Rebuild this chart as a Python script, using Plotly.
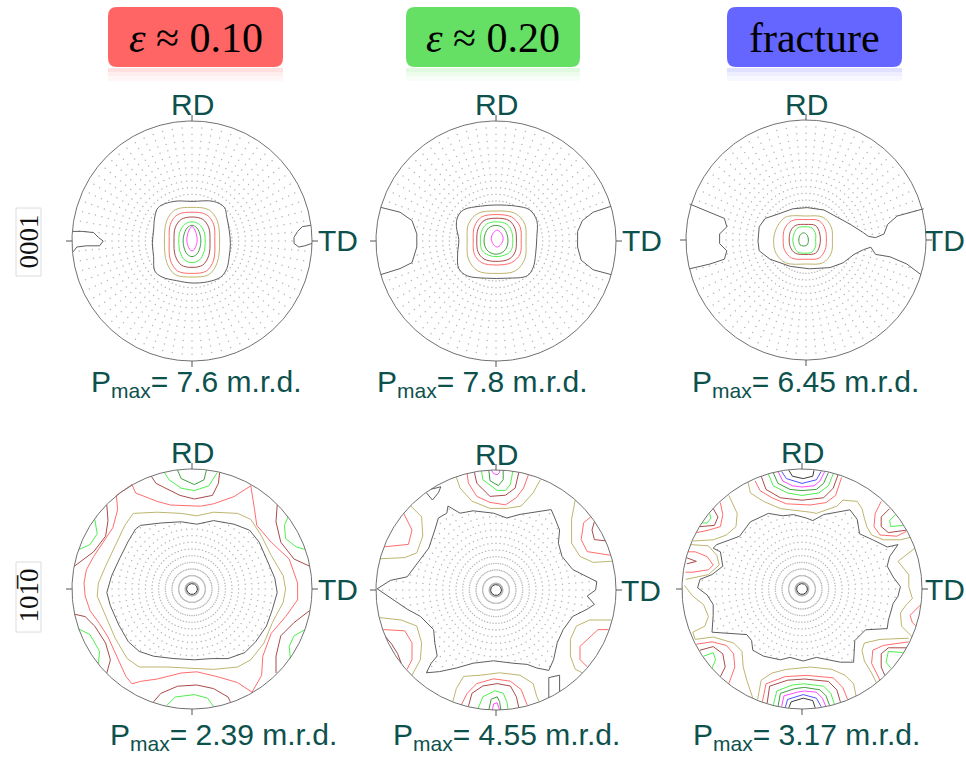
import numpy as np
import plotly.graph_objects as go

W, H = 966, 757
R_PX = 120.0      # pole-figure radius in pixels
HALF = 1.12       # axis half-range, in units of the radius

# ---------------- labels ----------------
STAGES = ["<i>ε</i> ≈ 0.10", "<i>ε</i> ≈ 0.20", "fracture"]
STAGE_COLORS = ["#ff6565", "#65e065", "#6565ff"]
PLANES = ["0001", "101\u03050"]
PMAX = [["7.6", "7.8", "6.45"], ["2.39", "4.55", "3.17"]]

# contour level colours, lowest level first
LEVEL_COLORS = ["#5e5e5e", "#bdb56e", "#ff6d6d", "#aa4b4b", "#4ef04e",
                "#3f9f3f", "#ff4dff", "#5252ff", "#3c3c3c"]

# ---------------- contour lines (percent of radius; x = TD, y = RD) ----------------
# (0001), eps ~ 0.10
P1_L1 = [(0, 33), (18, 33), (27, 28), (29, 20), (31, 9), (32, -2), (31, -13), (29, -23), (24, -30),
         (13, -34), (0, -35), (-13, -33), (-25, -30), (-31, -25), (-32, -13), (-33, -2), (-32, 9),
         (-31, 20), (-28, 28), (-15, 33)]
P1_L1_W = [(-100, 8), (-91, 8), (-82, 7), (-78, 3), (-74, 0), (-77, -4), (-88, -4), (-96, -5), (-99, -9)]
P1_L1_E = [(99, 13), (92, 12), (88, 8), (85, 3), (85, -2), (89, -5), (94, -4), (100, -2)]
P1_L2 = [(0, 28), (14, 26), (21, 17), (23, 0), (21, -18), (14, -28), (0, -30), (-14, -28), (-21, -18),
         (-23, 0), (-21, 17), (-14, 26)]
P1_L3 = [(0, 24), (12, 22), (18, 14), (19, 0), (18, -16), (12, -25), (0, -27), (-12, -25), (-18, -16),
         (-19, 0), (-18, 14), (-12, 22)]
P1_L4 = [(0, 20), (9, 18), (14, 11), (15, 0), (14, -12), (9, -20), (0, -22), (-9, -20), (-14, -12),
         (-15, 0), (-14, 11), (-9, 18)]
P1_L5 = [(0, 16), (6, 14), (10, 8), (11, 0), (10, -9), (6, -16), (0, -18), (-6, -16), (-10, -9),
         (-11, 0), (-10, 8), (-6, 14)]
P1_L6 = [(0, 13), (4, 11), (7, 4), (7, -4), (4, -11), (0, -13), (-4, -11), (-7, -4), (-7, 4), (-4, 11)]
P1_L7 = [(0, 12), (2, 10), (4, 4), (4, -2), (1, -8), (-1, -8), (-4, -2), (-4, 4), (-2, 10)]

# (0001), eps ~ 0.20
P2_L1 = [(0, 30), (17, 29), (28, 26), (34, 17), (34, 3), (33, -11), (31, -22), (26, -29), (9, -31),
         (-8, -31), (-24, -29), (-31, -23), (-32, -11), (-31, 1), (-33, 12), (-32, 20), (-27, 26), (-13, 29)]
P2_L1_W = [(-96, 28), (-80, 24), (-70, 17), (-66, 6), (-66, -5), (-70, -18), (-80, -23), (-96, -28)]
P2_L1_E = [(96, 29), (81, 24), (72, 17), (68, 8), (68, -5), (71, -16), (81, -24), (96, -28)]
P2_L2 = [(0, 25), (16, 23), (24, 14), (25, 0), (24, -15), (16, -25), (0, -27), (-15, -25), (-23, -15),
         (-24, 0), (-23, 14), (-15, 23)]
P2_L3 = [(0, 22), (13, 20), (20, 12), (21, 0), (20, -11), (13, -18), (0, -20), (-12, -18), (-18, -11),
         (-19, 0), (-18, 12), (-12, 20)]
P2_L4 = [(0, 19), (11, 17), (16, 10), (17, 0), (16, -9), (11, -15), (0, -17), (-10, -15), (-15, -9),
         (-16, 0), (-15, 10), (-10, 17)]
P2_L5 = [(0, 16), (9, 14), (13, 8), (14, 0), (13, -7), (9, -11), (0, -13), (-8, -11), (-12, -7),
         (-13, 0), (-12, 8), (-8, 14)]
P2_L6 = [(0, 13), (6, 11), (9, 6), (10, 0), (9, -5), (6, -9), (0, -11), (-6, -9), (-9, -5),
         (-10, 0), (-9, 6), (-6, 11)]
P2_L7 = [(1, 9), (4, 7), (6, 2), (4, -3), (1, -5), (-2, -3), (-4, 2), (-2, 7)]

# (0001), fracture
P3_L1 = [(98, 26), (76, 20), (68, 13), (65, 5), (58, 2), (52, 3), (48, 6), (37, 13), (26, 19), (15, 25),
         (1, 27), (-11, 26), (-25, 21), (-34, 18), (-39, 11), (-40, -1), (-39, -9), (-30, -16), (-13, -22),
         (3, -24), (20, -23), (31, -19), (40, -12), (48, -8), (54, -6), (58, -12), (70, -14), (84, -20),
         (96, -29)]
P3_L1_W = [(-97, 30), (-80, 23), (-68, 18), (-66, 11), (-72, 5), (-72, -3), (-66, -9), (-68, -16),
           (-80, -20), (-97, -24)]
P3_L2 = [(0, 20), (14, 19), (21, 11), (22, 0), (21, -11), (14, -19), (0, -20), (-17, -19), (-25, -11),
         (-27, 0), (-24, 11), (-17, 19)]
P3_L3 = [(0, 17), (11, 16), (16, 9), (17, 0), (16, -8), (11, -15), (0, -16), (-12, -15), (-18, -8),
         (-19, 0), (-18, 9), (-12, 16)]
P3_L4 = [(0, 13), (8, 12), (11, 7), (12, 0), (11, -6), (8, -11), (0, -12), (-9, -11), (-13, -6),
         (-14, 0), (-13, 7), (-9, 12)]
P3_L5 = [(0, 11), (5, 10), (8, 5), (8, 0), (8, -5), (5, -10), (0, -11), (-7, -10), (-10, -5),
         (-11, 0), (-10, 5), (-7, 10)]
P3_L6 = [(-2, 6), (1, 4), (2, 0), (1, -4), (-2, -5), (-5, -4), (-6, 0), (-5, 4)]

# (10-10), eps ~ 0.10
P4_L1 = [(-43, 53), (-26, 55), (-9, 56), (4, 54), (18, 57), (35, 54), (48, 49), (56, 39), (63, 23),
         (69, 9), (71, -3), (67, -17), (62, -31), (53, -44), (44, -53), (30, -58), (16, -58), (2, -59),
         (-15, -58), (-32, -56), (-44, -52), (-53, -44), (-61, -30), (-68, -14), (-71, -3), (-67, 11),
         (-60, 26), (-53, 40), (-47, 50)]
P4_L2 = [(-49, 63), (-29, 64), (-9, 63), (4, 61), (18, 64), (38, 63), (49, 58), (58, 44), (66, 28),
         (76, 11), (78, 0), (76, -11), (67, -28), (60, -45), (49, -59), (38, -65), (18, -67), (2, -66),
         (-21, -65), (-44, -65), (-54, -58), (-64, -41), (-72, -23), (-79, -6), (-78, 5), (-72, 19),
         (-64, 36), (-56, 53)]
P4_L3 = [(7, 69), (18, 71), (35, 77), (49, 86), (52, 67), (54, 53), (66, 39), (81, 25), (88, 5),
         (88, -9), (78, -23), (66, -37), (59, -56), (58, -72), (50, -86), (38, -78), (21, -73), (4, -69),
         (-9, -70), (-29, -75), (-43, -77), (-50, -79), (-55, -73), (-63, -56), (-70, -40), (-77, -29),
         (-85, -18), (-89, -6), (-90, 5), (-88, 16), (-82, 27), (-74, 39), (-66, 51), (-62, 66),
         (-63, 78), (-50, 87), (-47, 80), (-29, 73), (-18, 70)]
P4_L4_N = [(-34, 94), (-30, 88), (-24, 85), (-10, 78), (2, 75), (17, 78), (22, 88), (23, 97)]
P4_L4_NE = [(71, 70), (70, 56), (74, 39), (85, 25), (98, 19)]
P4_L4_NW = [(-71, 70), (-70, 57), (-72, 44), (-82, 31), (-98, 19)]
P4_L4_SW = [(-98, -21), (-89, -23), (-81, -31), (-72, -45), (-68, -59), (-71, -70)]
P4_L4_SE = [(98, -18), (85, -28), (74, -39), (70, -56), (70, -70)]
P4_L4_S = [(-32, -94), (-26, -87), (-12, -81), (4, -80), (18, -83), (30, -90), (32, -94)]
P4_L5_N = [(-23, 97), (-19, 91), (-9, 84), (2, 82), (14, 86), (18, 92), (21, 97)]
P4_L5_NE = [(80, 60), (77, 53), (78, 42), (87, 35), (94, 33)]
P4_L5_NW = [(-81, 58), (-79, 46), (-85, 37), (-94, 33)]
P4_L5_SW = [(-95, -33), (-85, -38), (-77, -52), (-78, -62)]
P4_L5_SE = [(94, -34), (85, -39), (81, -48), (82, -58)]
P4_L5_S = [(-21, -97), (-14, -90), (2, -88), (13, -91), (18, -98)]
P4_L6_N = [(-12, 99), (-9, 92), (2, 87), (10, 91), (12, 99)]

# (10-10), eps ~ 0.20
P5_L1 = [(-99, 1), (-88, 8), (-74, 11), (-65, 23), (-56, 35), (-51, 50), (-48, 60), (-41, 64), (-40, 70),
         (-30, 64), (-19, 66), (-2, 64), (9, 60), (20, 63), (37, 66), (46, 67), (49, 60), (53, 50),
         (52, 39), (55, 28), (64, 17), (76, 11), (84, 7), (83, 0), (76, -5), (82, -12), (76, -16),
         (64, -22), (56, -33), (51, -44), (48, -58), (44, -67), (34, -65), (26, -62), (14, -61), (-2, -59),
         (-19, -61), (-33, -65), (-47, -68), (-58, -69), (-54, -61), (-49, -55), (-51, -44), (-52, -33),
         (-63, -22), (-74, -16), (-86, -8)]
P5_L1_NW = [(-54, 84), (-46, 86), (-48, 81), (-53, 75), (-58, 81)]
P5_L1_SE = [(44, -90), (44, -73), (53, -71), (53, -85)]
P5_L2_N = [(-33, 94), (-30, 85), (-20, 74), (-5, 68), (9, 68), (21, 70), (31, 81), (37, 92)]
P5_L2_NE = [(66, 75), (63, 59), (63, 39), (70, 28), (81, 23), (97, 24)]
P5_L2_NW = [(-71, 70), (-62, 61), (-61, 45), (-66, 31), (-76, 27), (-97, 26)]
P5_L2_SW = [(-97, -23), (-79, -25), (-66, -30), (-62, -44), (-63, -58), (-70, -71)]
P5_L2_SE = [(96, -25), (78, -25), (67, -30), (62, -41), (62, -55), (66, -66), (72, -69)]
P5_L2_S = [(-36, -93), (-33, -82), (-27, -72), (-13, -71), (3, -69), (20, -71), (31, -78), (34, -89),
           (36, -93)]
P5_L3_N = [(-24, 97), (-23, 89), (-16, 78), (-5, 73), (8, 71), (17, 77), (23, 85), (27, 96)]
P5_L3_NE = [(79, 61), (73, 56), (71, 42), (76, 32), (95, 29)]
P5_L3_NW = [(-77, 64), (-70, 50), (-73, 38), (-93, 36)]
P5_L3_SW = [(-94, -33), (-76, -34), (-70, -44), (-70, -58), (-74, -66)]
P5_L3_SE = [(94, -33), (85, -33), (70, -47), (70, -58), (76, -64)]
P5_L3_S = [(-29, -96), (-24, -86), (-16, -78), (-2, -74), (12, -76), (21, -83), (26, -96)]
P5_L4_N = [(-18, 98), (-16, 89), (-5, 78), (8, 79), (16, 85), (19, 98)]
P5_L4_NE = [(82, 57), (80, 50), (82, 42), (91, 41)]
P5_L4_SW = [(-92, -39), (-87, -45), (-82, -53), (-79, -61)]
P5_L4_S = [(-23, -97), (-20, -86), (-11, -80), (1, -78), (12, -80), (17, -89), (19, -98)]
P5_L5_N = [(-12, 99), (-11, 92), (1, 83), (8, 83), (12, 88), (14, 99)]
P5_L5_S = [(-15, -99), (-11, -89), (-1, -84), (6, -86), (9, -93), (10, -99)]
P5_L6_N = [(-6, 100), (-5, 91), (2, 87), (6, 92), (6, 100)]
P5_L6_S = [(-6, -100), (-4, -91), (1, -89), (3, -93), (4, -100)]
P5_L7_N = [(-4, 100), (-2, 97), (1, 96), (3, 98), (3, 100)]
P5_L7_S = [(-3, -100), (-2, -95), (1, -94), (3, -100)]

# (10-10), fracture
P6_L1 = [(4, 59), (9, 57), (18, 62), (23, 63), (32, 65), (40, 66), (46, 58), (48, 46), (59, 41), (71, 35),
         (80, 37), (73, 27), (71, 19), (76, 10), (82, 2), (80, -6), (76, -12), (72, -26), (71, -33),
         (53, -34), (44, -43), (43, -61), (32, -61), (12, -57), (1, -60), (-10, -57), (-18, -59),
         (-32, -56), (-41, -51), (-42, -43), (-46, -38), (-66, -37), (-75, -36), (-74, -22), (-74, -13),
         (-79, -5), (-87, 1), (-85, 8), (-75, 12), (-66, 19), (-68, 31), (-74, 34), (-71, 37), (-60, 41),
         (-52, 44), (-43, 56), (-28, 63), (-16, 61), (-7, 62)]
P6_L2_N = [(-45, 89), (-43, 80), (-32, 73), (-18, 67), (7, 64), (12, 63), (29, 69), (34, 74), (46, 73),
           (50, 67), (52, 59), (54, 52), (58, 45), (68, 41), (82, 41), (90, 43)]
P6_L2_NW = [(-61, 78), (-54, 63), (-55, 52), (-63, 45), (-74, 41), (-91, 40)]
P6_L2_W = [(-93, 37), (-78, 36), (-71, 28), (-69, 20), (-78, 12), (-97, 8)]
P6_L2_SW = [(-98, 3), (-91, -6), (-82, -13), (-78, -23), (-81, -31), (-91, -36), (-89, -42), (-74, -40),
            (-57, -45), (-50, -52), (-49, -65), (-46, -76), (-41, -91)]
P6_L2_S = [(-37, -92), (-34, -76), (-25, -70), (-13, -67), (7, -65), (25, -67), (36, -72), (43, -79),
           (45, -89)]
P6_L2_SE = [(89, -41), (65, -42), (52, -45), (50, -51), (52, -60), (58, -70), (62, -78)]
P6_L2_E = [(94, 34), (80, 23), (89, 12), (89, 2), (92, -8), (87, -13), (82, -20), (83, -31), (92, -40)]
P6_L3_N = [(-39, 90), (-35, 82), (-25, 76), (-13, 71), (7, 70), (20, 72), (28, 78), (33, 93)]
P6_L3_NE = [(66, 73), (61, 63), (60, 52), (65, 45), (79, 44), (87, 48)]
P6_L3_NW = [(-68, 72), (-66, 62), (-68, 52), (-78, 49), (-88, 47)]
P6_L3_W = [(-95, 31), (-89, 31), (-79, 27), (-74, 20), (-78, 16), (-91, 14), (-97, 14)]
P6_L3_E = [(99, -13), (90, -22), (92, -28), (95, -31)]
P6_L3_SE = [(89, -44), (68, -47), (59, -51), (58, -62), (62, -70), (65, -76)]
P6_L3_SW = [(-88, -46), (-75, -44), (-63, -47), (-57, -54), (-56, -65), (-60, -76), (-61, -79)]
P6_L3_S = [(-33, -94), (-30, -79), (-14, -73), (4, -72), (26, -74), (34, -82), (38, -92)]
P6_L4_N = [(-34, 94), (-30, 83), (-18, 76), (0, 74), (18, 76), (26, 84), (30, 95)]
P6_L4_NE = [(73, 67), (66, 60), (66, 52), (72, 47), (87, 49)]
P6_L4_NW = [(-74, 67), (-70, 60), (-73, 53), (-85, 52)]
P6_L4_W = [(-96, 26), (-88, 23), (-96, 21)]
P6_L4_SE = [(87, -49), (72, -49), (66, -54), (66, -65), (69, -72)]
P6_L4_SW = [(-85, -51), (-74, -48), (-66, -54), (-64, -65), (-68, -73)]
P6_L4_S = [(-29, -95), (-27, -81), (-12, -76), (2, -75), (22, -77), (29, -84), (32, -94)]
P6_L5_N = [(-28, 96), (-24, 86), (-12, 80), (0, 78), (14, 80), (22, 86), (26, 96)]
P6_L5_NE = [(78, 62), (73, 57), (74, 52), (84, 53)]
P6_L5_NW = [(-77, 63), (-76, 59), (-79, 55), (-83, 55)]
P6_L5_SE = [(84, -53), (72, -52), (70, -61), (74, -66)]
P6_L5_SW = [(-82, -56), (-74, -53), (-72, -59), (-75, -66)]
P6_L5_S = [(-24, -97), (-21, -85), (-8, -80), (2, -79), (18, -81), (24, -87), (27, -96)]
P6_L6_N = [(-24, 97), (-20, 88), (-10, 83), (0, 82), (12, 83), (18, 88), (22, 97)]
P6_L6_S = [(-20, -98), (-18, -87), (-6, -83), (2, -82), (15, -84), (20, -89), (23, -97)]
P6_L7_N = [(-20, 98), (-16, 90), (-8, 86), (0, 85), (10, 86), (15, 90), (19, 98)]
P6_L7_S = [(-17, -98), (-15, -89), (-4, -86), (2, -85), (12, -86), (17, -91), (20, -98)]
P6_L8_N = [(-17, 98), (-13, 92), (0, 88), (12, 91), (16, 98)]
P6_L8_S = [(-14, -99), (-12, -92), (1, -88), (12, -91), (16, -98)]
P6_L9_N = [(-11, 99), (-8, 94), (1, 92), (9, 94), (10, 99)]
P6_L9_S = [(-11, -99), (-9, -94), (1, -91), (9, -93), (11, -99)]

CENTER_RING = 4.5   # small minimum ring at the pole of the prismatic figures (percent)

# ---------------- page layout (pixels) ----------------
CENTERS = [[(192, 241), (496, 241), (806, 240)], [(192, 589), (496, 590), (802, 589)]]
TD_LEFT = [[316, 620, 923], [316, 619, 923]]
PMAX_POS = [[(196, 383), (482, 383), (805, 383)], [(223, 736), (506, 736), (806, 736)]]
BOXES = [(108, 283), (406, 580), (727, 902)]


def A(pts):
    return np.asarray(pts, dtype=float) / 100.0


def close_on_rim(pts):
    """Close an open contour along the rim of the pole figure (short way round)."""
    a0 = np.arctan2(pts[0, 1], pts[0, 0])
    a1 = np.arctan2(pts[-1, 1], pts[-1, 0])
    d = (a0 - a1 + np.pi) % (2 * np.pi) - np.pi
    t = np.linspace(0, 1, 30)
    arc = np.c_[np.cos(a1 + d * t), np.sin(a1 + d * t)]
    return np.vstack([pts, arc])


def inside(px, py, poly):
    x, y = poly[:, 0], poly[:, 1]
    x2, y2 = np.roll(x, -1), np.roll(y, -1)
    res = np.zeros(px.shape, bool)
    for xa, ya, xb, yb in zip(x, y, x2, y2):
        if ya == yb:
            continue
        cond = (ya > py) != (yb > py)
        xint = xa + (py - ya) * (xb - xa) / (yb - ya)
        res ^= cond & (px < xint)
    return res


# (level, points, closed)
PANELS = [
    [
        dict(lines=[(0, P1_L1, True), (0, P1_L1_W, False), (0, P1_L1_E, False), (1, P1_L2, True),
                    (2, P1_L3, True), (3, P1_L4, True), (4, P1_L5, True), (5, P1_L6, True), (6, P1_L7, True)],
             low_out=[(P1_L1, True), (P1_L1_W, False), (P1_L1_E, False)], smooth=True),
        dict(lines=[(0, P2_L1, True), (0, P2_L1_W, False), (0, P2_L1_E, False), (1, P2_L2, True),
                    (2, P2_L3, True), (3, P2_L4, True), (4, P2_L5, True), (5, P2_L6, True), (6, P2_L7, True)],
             low_out=[(P2_L1, True), (P2_L1_W, False), (P2_L1_E, False)], smooth=True),
        dict(lines=[(0, P3_L1, False), (0, P3_L1_W, False), (1, P3_L2, True), (2, P3_L3, True),
                    (3, P3_L4, True), (4, P3_L5, True), (5, P3_L6, True)],
             low_out=[(P3_L1, False), (P3_L1_W, False)], smooth=True),
    ],
    [
        dict(lines=[(0, P4_L1, True), (1, P4_L2, True), (2, P4_L3, True),
                    (3, P4_L4_N, False), (3, P4_L4_NE, False), (3, P4_L4_NW, False), (3, P4_L4_SW, False),
                    (3, P4_L4_SE, False), (3, P4_L4_S, False),
                    (4, P4_L5_N, False), (4, P4_L5_NE, False), (4, P4_L5_NW, False), (4, P4_L5_SW, False),
                    (4, P4_L5_SE, False), (4, P4_L5_S, False), (5, P4_L6_N, False)],
             low_in=P4_L1, smooth=False),
        dict(lines=[(0, P5_L1, True), (0, P5_L1_NW, False), (0, P5_L1_SE, False),
                    (1, P5_L2_N, False), (1, P5_L2_NE, False), (1, P5_L2_NW, False), (1, P5_L2_SW, False),
                    (1, P5_L2_SE, False), (1, P5_L2_S, False),
                    (2, P5_L3_N, False), (2, P5_L3_NE, False), (2, P5_L3_NW, False), (2, P5_L3_SW, False),
                    (2, P5_L3_SE, False), (2, P5_L3_S, False),
                    (3, P5_L4_N, False), (3, P5_L4_NE, False), (3, P5_L4_SW, False), (3, P5_L4_S, False),
                    (4, P5_L5_N, False), (4, P5_L5_S, False), (5, P5_L6_N, False), (5, P5_L6_S, False),
                    (6, P5_L7_N, False), (6, P5_L7_S, False)],
             low_in=P5_L1, smooth=False),
        dict(lines=[(0, P6_L1, True),
                    (1, P6_L2_N, False), (1, P6_L2_NW, False), (1, P6_L2_W, False), (1, P6_L2_SW, False),
                    (1, P6_L2_S, False), (1, P6_L2_SE, False), (1, P6_L2_E, False),
                    (2, P6_L3_N, False), (2, P6_L3_NE, False), (2, P6_L3_NW, False), (2, P6_L3_W, False),
                    (2, P6_L3_E, False), (2, P6_L3_SE, False), (2, P6_L3_SW, False), (2, P6_L3_S, False),
                    (3, P6_L4_N, False), (3, P6_L4_NE, False), (3, P6_L4_NW, False), (3, P6_L4_W, False),
                    (3, P6_L4_SE, False), (3, P6_L4_SW, False), (3, P6_L4_S, False),
                    (4, P6_L5_N, False), (4, P6_L5_NE, False), (4, P6_L5_NW, False), (4, P6_L5_SE, False),
                    (4, P6_L5_SW, False), (4, P6_L5_S, False),
                    (5, P6_L6_N, False), (5, P6_L6_S, False), (6, P6_L7_N, False), (6, P6_L7_S, False),
                    (7, P6_L8_N, False), (7, P6_L8_S, False), (8, P6_L9_N, False), (8, P6_L9_S, False)],
             low_in=P6_L1, smooth=False),
    ],
]

# polar sampling grid shown where the density is below the lowest level
ring_r = np.arange(1, 18) / 18.0
ring_a = np.deg2rad(np.arange(0, 360, 5))
RR, AA = np.meshgrid(ring_r, ring_a)
GX, GY = (RR * np.cos(AA)).ravel(), (RR * np.sin(AA)).ravel()

fig = go.Figure()
layout_axes = {}
annotations = []
shapes = []
theta = np.linspace(0, 2 * np.pi, 361)
teal = "#0d514d"
k = 0
for row in range(2):
    for col in range(3):
        k += 1
        cx, cy = CENTERS[row][col]
        spec = PANELS[row][col]
        xa = "x" if k == 1 else f"x{k}"
        ya = "y" if k == 1 else f"y{k}"
        span = HALF * R_PX
        layout_axes["xaxis" if k == 1 else f"xaxis{k}"] = dict(
            domain=[(cx - span) / W, (cx + span) / W], range=[-HALF, HALF],
            visible=False, fixedrange=True, anchor=ya)
        layout_axes["yaxis" if k == 1 else f"yaxis{k}"] = dict(
            domain=[1 - (cy + span) / H, 1 - (cy - span) / H], range=[-HALF, HALF],
            visible=False, fixedrange=True, anchor=xa)

        # sampling dots
        if "low_in" in spec:
            mask = inside(GX, GY, A(spec["low_in"]))
        else:
            mask = np.ones(GX.shape, bool)
            for pts, closed in spec["low_out"]:
                poly = A(pts) if closed else close_on_rim(A(pts))
                mask &= ~inside(GX, GY, poly)
        fig.add_trace(go.Scatter(x=GX[mask], y=GY[mask], mode="markers", xaxis=xa, yaxis=ya,
                                 marker=dict(size=1.5, color="#b4b4b4", line=dict(width=0)),
                                 hoverinfo="skip", showlegend=False))

        # contour lines
        for lev, pts, closed in spec["lines"]:
            p = A(pts)
            if closed:
                p = np.vstack([p, p[:1]])
            fig.add_trace(go.Scatter(
                x=p[:, 0], y=p[:, 1], mode="lines", xaxis=xa, yaxis=ya,
                line=dict(color=LEVEL_COLORS[lev], width=1,
                          shape="spline" if (spec["smooth"] and closed) else "linear", smoothing=1.0),
                hoverinfo="skip", showlegend=False))

        if row == 1:
            cr = CENTER_RING / 100.0
            fig.add_trace(go.Scatter(x=cr * np.cos(theta), y=cr * np.sin(theta), mode="lines",
                                     xaxis=xa, yaxis=ya, line=dict(color="#333333", width=1),
                                     hoverinfo="skip", showlegend=False))

        # rim and axis ticks
        fig.add_trace(go.Scatter(x=np.cos(theta), y=np.sin(theta), mode="lines", xaxis=xa, yaxis=ya,
                                 line=dict(color="#707070", width=1), hoverinfo="skip", showlegend=False))
        tx, ty = [], []
        for ang in (0, 90, 180, 270):
            c, s = np.cos(np.deg2rad(ang)), np.sin(np.deg2rad(ang))
            tx += [c, 1.05 * c, None]
            ty += [s, 1.05 * s, None]
        fig.add_trace(go.Scatter(x=tx, y=ty, mode="lines", xaxis=xa, yaxis=ya,
                                 line=dict(color="#555555", width=1), hoverinfo="skip", showlegend=False))

        # RD / TD / Pmax labels
        annotations.append(dict(text="RD", x=cx / W, y=1 - (cy - 136) / H, xref="paper", yref="paper",
                                showarrow=False, xanchor="center", yanchor="middle",
                                font=dict(family="Liberation Sans, Arial", size=30, color=teal)))
        annotations.append(dict(text="TD", x=TD_LEFT[row][col] / W, y=1 - cy / H, xref="paper",
                                yref="paper", showarrow=False, xanchor="left", yanchor="middle",
                                font=dict(family="Liberation Sans, Arial", size=30, color=teal)))
        px_, py_ = PMAX_POS[row][col]
        annotations.append(dict(text=f"P<sub>max</sub>= {PMAX[row][col]} m.r.d.", x=px_ / W, y=1 - py_ / H,
                                xref="paper", yref="paper", showarrow=False, xanchor="center",
                                yanchor="middle",
                                font=dict(family="Liberation Sans, Arial", size=30, color=teal)))


def P(x, y):
    return f"{x / W:.5f},{1 - y / H:.5f}"


def rounded_box(x0, y0, x1, y1, r):
    return (f"M {P(x0 + r, y0)} L {P(x1 - r, y0)} Q {P(x1, y0)} {P(x1, y0 + r)} "
            f"L {P(x1, y1 - r)} Q {P(x1, y1)} {P(x1 - r, y1)} L {P(x0 + r, y1)} "
            f"Q {P(x0, y1)} {P(x0, y1 - r)} L {P(x0, y0 + r)} Q {P(x0, y0)} {P(x0 + r, y0)} Z")


for (x0, x1), label, colr in zip(BOXES, STAGES, STAGE_COLORS):
    # faded reflection under each header
    for (ya, yb, op) in [(68, 72, 0.20), (72, 76, 0.11), (76, 81, 0.05)]:
        shapes.append(dict(type="rect", xref="paper", yref="paper", x0=x0 / W, x1=x1 / W,
                           y0=1 - yb / H, y1=1 - ya / H, fillcolor=colr, opacity=op, line=dict(width=0),
                           layer="below"))
    shapes.append(dict(type="path", xref="paper", yref="paper", path=rounded_box(x0, 7, x1, 67, 9),
                       fillcolor=colr, line=dict(width=0), layer="below"))
    annotations.append(dict(text=label, x=(x0 + x1) / 2 / W, y=1 - 38 / H, xref="paper", yref="paper",
                            showarrow=False, xanchor="center", yanchor="middle",
                            font=dict(family="Liberation Serif, Times New Roman", size=42, color="black")))

for (y0, y1, yc), label in zip([(208, 276, 242), (562, 632, 596)], PLANES):
    shapes.append(dict(type="rect", xref="paper", yref="paper", x0=16 / W, x1=41 / W,
                       y0=1 - y1 / H, y1=1 - y0 / H, line=dict(color="#dcdcdc", width=1),
                       fillcolor="white", layer="below"))
    annotations.append(dict(text=label, x=28.5 / W, y=1 - yc / H, xref="paper", yref="paper",
                            showarrow=False, textangle=-90, xanchor="center", yanchor="middle",
                            font=dict(family="Liberation Serif, Times New Roman", size=27, color="#111111")))

fig.update_layout(width=W, height=H, margin=dict(l=0, r=0, t=0, b=0), autosize=False,
                  paper_bgcolor="white", plot_bgcolor="rgba(0,0,0,0)", showlegend=False,
                  annotations=annotations, shapes=shapes, **layout_axes)
fig.write_html("out.html")
